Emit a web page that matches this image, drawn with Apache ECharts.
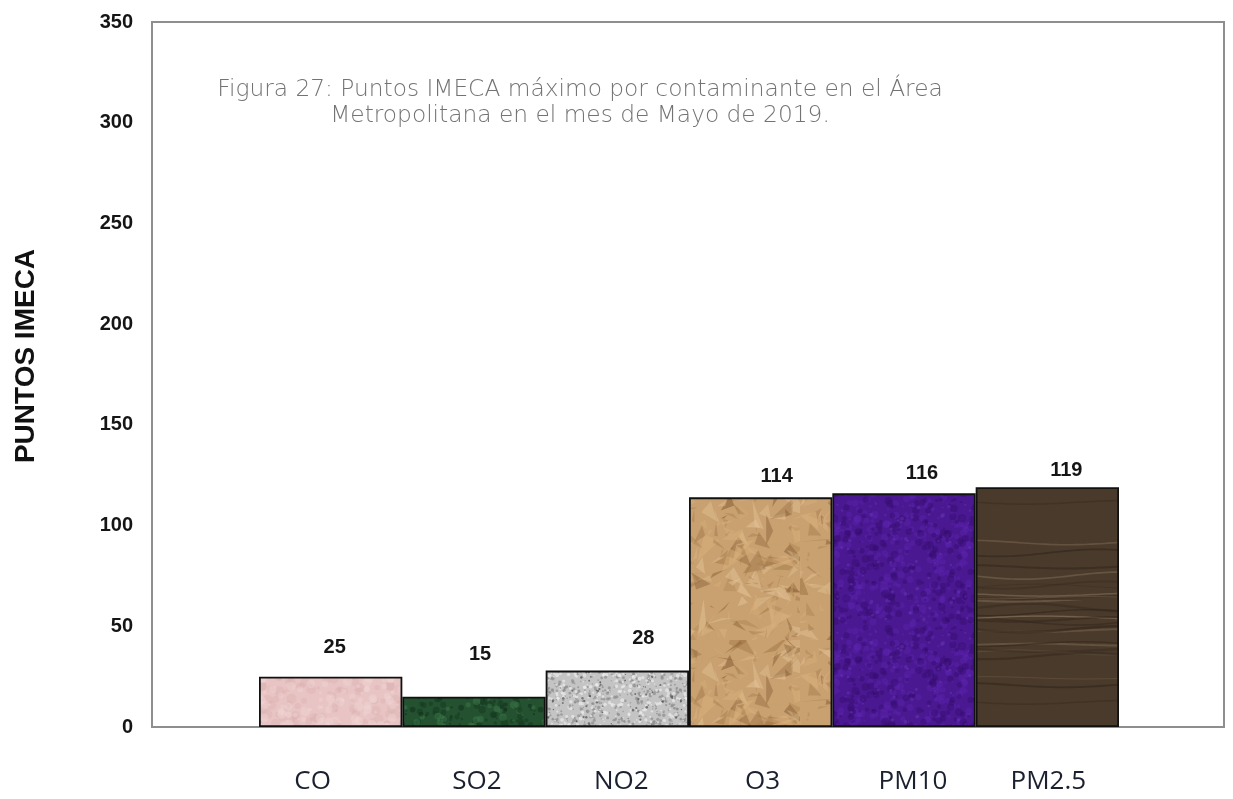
<!DOCTYPE html>
<html>
<head>
<meta charset="utf-8">
<script src="https://cdn.jsdelivr.net/npm/echarts@6/dist/echarts.min.js"></script>
<style>
  html, body { margin: 0; padding: 0; background: #ffffff; }
  #chart { width: 1233px; height: 799px; }
</style>
</head>
<body>
<div id="chart"></div>
<script>
// Pollutants and their maximum IMECA points, May 2019
const contaminantes = ['CO', 'SO2', 'NO2', 'O3', 'PM10', 'PM2.5'];
const puntosIMECA = [25, 15, 28, 114, 116, 119];
const yTicks = { min: 0, max: 350, interval: 50 };

// Hand-placed value labels: [dx, dy] nudges from the top of each bar
const labelNudges = [[4, -19], [6, -32], [26, -22], [16, -11], [18, -10], [19, -7]];
// Small horizontal nudges of the category names (px, + = right)
const categoryNudges = [-18, 3, 4, 2, 9, 1];

// ---- bar textures (deterministic) ----
function rng(seed) {
  let s = seed >>> 0;
  return function () { s = (Math.imul(s, 1664525) + 1013904223) >>> 0; return s / 4294967296; };
}
function canvasOf(size, base) {
  const c = document.createElement('canvas');
  c.width = c.height = size;
  const g = c.getContext('2d');
  g.fillStyle = base; g.fillRect(0, 0, size, size);
  return [c, g];
}
function speckle(size, base, spots, seed) {
  const [c, g] = canvasOf(size, base);
  const r = rng(seed);
  spots.forEach(([color, n, rmin, rmax, alpha]) => {
    g.fillStyle = color; g.globalAlpha = alpha;
    for (let i = 0; i < n; i++) {
      const x = r() * size, y = r() * size, rad = rmin + r() * (rmax - rmin);
      for (const ox of [-size, 0, size]) for (const oy of [-size, 0, size]) {
        g.beginPath(); g.arc(x + ox, y + oy, rad, 0, Math.PI * 2); g.fill();
      }
    }
  });
  g.globalAlpha = 1;
  return c;
}
function crumpled(size, base, shades, seed) {
  const [c, g] = canvasOf(size, base);
  const r = rng(seed);
  for (let i = 0; i < 260; i++) {
    const x = r() * size, y = r() * size, s = 6 + r() * 22;
    g.fillStyle = shades[Math.floor(r() * shades.length)];
    g.globalAlpha = 0.25 + r() * 0.35;
    g.beginPath();
    g.moveTo(x, y);
    g.lineTo(x + (r() - 0.5) * s * 2, y + (r() - 0.3) * s);
    g.lineTo(x + (r() - 0.3) * s, y + (r() - 0.5) * s * 2);
    g.closePath(); g.fill();
  }
  g.globalAlpha = 1;
  return c;
}
function wood(size, base, grain, seed) {
  const [c, g] = canvasOf(size, base);
  const r = rng(seed);
  for (let i = 0; i < 26; i++) {
    const y0 = r() * size, amp = 1 + r() * 3, ph = r() * 6.28;
    g.strokeStyle = grain[Math.floor(r() * grain.length)];
    g.globalAlpha = 0.3 + r() * 0.4;
    g.lineWidth = 0.8 + r() * 1.8;
    g.beginPath();
    for (let x = 0; x <= size; x += 4) {
      const y = y0 + amp * Math.sin(ph + (x / size) * Math.PI * 2);
      x === 0 ? g.moveTo(x, y) : g.lineTo(x, y);
    }
    g.stroke();
  }
  g.globalAlpha = 1;
  return c;
}

const textures = [
  speckle(128, '#e8c4c4', [['#d9afb0', 160, 1, 5, 0.35], ['#f3d8d7', 160, 1, 5, 0.4]], 11),
  speckle(128, '#245231', [['#163a20', 220, 1, 4, 0.55], ['#3d7a4c', 160, 1, 4, 0.45], ['#0f2a16', 60, 1, 3, 0.5]], 23),
  speckle(128, '#c4c4c4', [['#8d8d8d', 700, 0.6, 1.8, 0.7], ['#ececec', 500, 0.6, 2, 0.7], ['#4f4f4f', 180, 0.5, 1.3, 0.7]], 37),
  crumpled(160, '#c9a170', ['#a57a4a', '#e3c397', '#8b6238', '#d8b07d'], 41),
  speckle(128, '#4a1890', [['#5c24ad', 260, 1, 4, 0.45], ['#360d6e', 220, 1, 4, 0.45], ['#6e3bbd', 80, 0.5, 2, 0.4]], 53),
  wood(200, '#4a3a2b', ['#7a6650', '#8c7860', '#33271c'], 67)
];

// ---- chart ----
const chart = echarts.init(document.getElementById('chart'), null, { renderer: 'canvas' });

const barData = puntosIMECA.map((v, i) => ({
  value: v,
  itemStyle: { color: { image: textures[i], repeat: 'repeat' } },
  label: { offset: labelNudges[i] }
}));

const categoryData = contaminantes.map((name, i) => {
  const n = categoryNudges[i];
  return {
    value: name,
    textStyle: { padding: n < 0 ? [0, -2 * n, 0, 0] : [0, 0, 0, 2 * n] }
  };
});

chart.setOption({
  animation: false,
  backgroundColor: '#ffffff',
  grid: [
    // framed plot area carrying the value scale
    { left: 152, right: 9, top: 22, bottom: 72, show: true, borderColor: '#8e8e8e', borderWidth: 2, backgroundColor: 'transparent' },
    // band holding the six adjacent bars
    { left: 259, right: 114, top: 22, bottom: 72 }
  ],
  xAxis: [
    { gridIndex: 0, type: 'value', show: false, min: 0, max: 1 },
    {
      gridIndex: 1, type: 'category', data: categoryData, boundaryGap: true,
      axisLine: { show: false }, axisTick: { show: false },
      axisLabel: { margin: 42, fontFamily: 'Open Sans', fontSize: 26, color: '#1b2030' }
    }
  ],
  yAxis: [
    {
      gridIndex: 0, type: 'value', min: yTicks.min, max: yTicks.max, interval: yTicks.interval,
      axisLine: { show: false }, axisTick: { show: false }, splitLine: { show: false },
      axisLabel: { margin: 19, fontFamily: 'Liberation Sans, Arial', fontWeight: 'bold', fontSize: 20, color: '#151515' }
    },
    {
      gridIndex: 1, type: 'value', min: yTicks.min, max: yTicks.max, interval: yTicks.interval, show: false
    }
  ],
  series: [{
    type: 'bar',
    xAxisIndex: 1, yAxisIndex: 1,
    data: barData,
    barCategoryGap: 0,
    itemStyle: { borderColor: '#111111', borderWidth: 1.8 },
    label: {
      show: true, position: 'top', distance: 0,
      fontFamily: 'Liberation Sans, Arial', fontWeight: 'bold', fontSize: 20, color: '#151515'
    }
  }],
  graphic: [
    {
      type: 'text', x: 580, y: 77,
      style: {
        text: 'Figura 27: Puntos IMECA máximo por contaminante en el Área\nMetropolitana en el mes de Mayo de 2019.',
        align: 'center', verticalAlign: 'top', lineHeight: 26,
        font: '200 23.3px "DejaVu Sans"', fill: '#737373'
      }
    },
    {
      type: 'text', x: 26, y: 356, rotation: Math.PI / 2,
      style: {
        text: 'PUNTOS IMECA', align: 'center', verticalAlign: 'middle',
        font: 'bold 28px "Liberation Sans", Arial', fill: '#111111'
      }
    }
  ]
});
</script>
</body>
</html>
